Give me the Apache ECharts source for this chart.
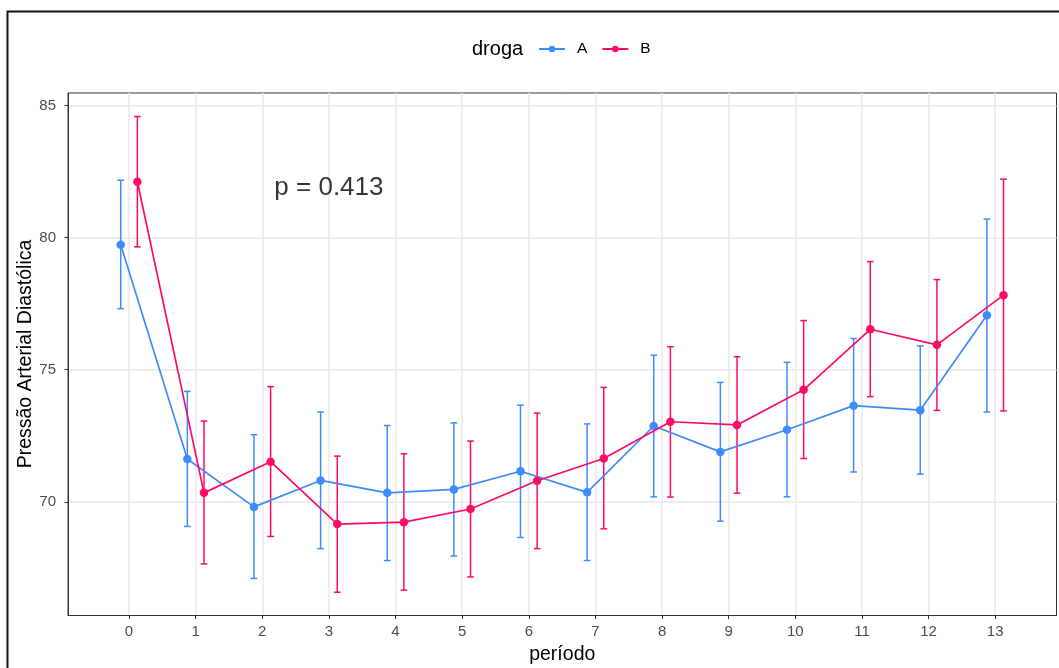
<!DOCTYPE html>
<html>
<head>
<meta charset="utf-8">
<script src="https://cdn.jsdelivr.net/npm/echarts@6/dist/echarts.min.js"></script>
<style>
html,body{margin:0;padding:0;background:#fff;}
#chart{width:1059px;height:668px;}
</style>
</head>
<body>
<div id="chart"></div>
<script>
// ---- data ----
const periods = [0,1,2,3,4,5,6,7,8,9,10,11,12,13];
const groups = ['A','B'];
const meanA  = [79.73,71.62,69.81,70.81,70.34,70.47,71.16,70.36,72.87,71.89,72.73,73.64,73.47,77.06];
const lowerA = [77.31,69.07,67.10,68.23,67.78,67.95,68.65,67.78,70.19,69.27,70.19,71.13,71.05,73.40];
const upperA = [82.17,74.18,72.54,73.40,72.89,72.99,73.66,72.95,75.55,74.52,75.28,76.18,75.90,80.70];
const meanB  = [82.11,70.34,71.52,69.16,69.23,69.73,70.80,71.64,73.03,72.91,74.24,76.53,75.94,77.82];
const lowerB = [79.65,67.65,68.69,66.58,66.66,67.16,68.23,68.98,70.18,70.33,71.64,73.98,73.46,73.44];
const upperB = [84.58,73.06,74.36,71.73,71.82,72.30,73.36,74.33,75.87,75.49,76.86,79.09,78.41,82.21];
const yTicks = [70,75,80,85];
const pText = 'p = 0.413';
const pPos = [3, 81.9];
const legendTitle = 'droga';
const xTitle = 'período';
const yTitle = 'Pressão Arterial Diastólica';

const colors = {A:'#3F8BFD', B:'#FF0A69'};
const dodge = {A:-0.125, B:0.125};
const capHalf = 0.05;
const FONT = '"Liberation Sans", Arial, sans-serif';

function lineData(mean, g){ return periods.map((p,i)=>[p+dodge[g], mean[i]]); }
function errData(lo, hi, g){ return periods.map((p,i)=>[p+dodge[g], lo[i], hi[i]]); }

function errSeries(g, lo, hi){
  return {
    name: g + ' (IC)', type:'custom', z: 2,
    data: errData(lo, hi, g),
    encode: {x:0, y:[1,2]},
    itemStyle:{color: colors[g]},
    renderItem: function(params, api){
      const x = api.value(0), l = api.value(1), h = api.value(2);
      const pLo = api.coord([x, l]), pHi = api.coord([x, h]);
      const cL = api.coord([x-capHalf, h])[0], cR = api.coord([x+capHalf, h])[0];
      const st = {stroke: colors[g], lineWidth: 1.5, fill: null};
      return {type:'group', children:[
        {type:'line', shape:{x1:pLo[0], y1:pLo[1], x2:pHi[0], y2:pHi[1]}, style:st},
        {type:'line', shape:{x1:cL, y1:pHi[1], x2:cR, y2:pHi[1]}, style:st},
        {type:'line', shape:{x1:cL, y1:pLo[1], x2:cR, y2:pLo[1]}, style:st}
      ]};
    },
    silent:true, animation:false
  };
}
function lineSeries(g, mean, z){
  return {
    name: g, type:'line', z: z,
    data: lineData(mean, g),
    symbol:'circle', symbolSize: 8.5, showSymbol:true,
    lineStyle:{color: colors[g], width:1.7},
    itemStyle:{color: colors[g]},
    animation:false
  };
}

const chart = echarts.init(document.getElementById('chart'), null, {renderer:'canvas'});
chart.setOption({
  backgroundColor:'#fff',
  animation:false,
  textStyle:{fontFamily: FONT},
  grid:{left:68, top:93, right:2.5, bottom:52.5, show:true, borderColor:'#333', borderWidth:1, backgroundColor:'transparent', outerBoundsMode:'none', containLabel:false},
  legend:{
    data: groups, left: 538, top: 41, orient:'horizontal', padding:0,
    itemWidth: 26, itemHeight: 8, itemGap: 14,
    textStyle:{fontFamily:FONT, fontSize:15.5, color:'#000', padding:[0,0,0,7]}
  },
  xAxis:{
    type:'value', min:-0.916, max:13.92,
    name: xTitle, nameLocation:'middle', nameGap: 27,
    nameTextStyle:{fontFamily:FONT, fontSize:19.5, color:'#000'},
    axisLine:{show:true, onZero:false, lineStyle:{color:'#333', width:1}},
    axisTick:{show:true, length:3.5, customValues: periods, lineStyle:{color:'#333', width:1}},
    axisLabel:{customValues: periods, fontFamily:FONT, fontSize:15, color:'#4d4d4d', margin:9},
    splitLine:{show:true, lineStyle:{color:'#e8e8e8', width:1.5}}
  },
  yAxis:{
    type:'value', min:65.70, max:85.47,
    axisLine:{show:true, onZero:false, lineStyle:{color:'#333', width:1}},
    axisTick:{show:true, length:3.5, customValues: yTicks, lineStyle:{color:'#333', width:1}},
    axisLabel:{customValues: yTicks, fontFamily:FONT, fontSize:15, color:'#4d4d4d', margin:12},
    splitLine:{show:true, lineStyle:{color:'#e8e8e8', width:1.5}}
  },
  graphic:[
    {type:'rect', left:5, top:9, shape:{x:0, y:0, width:1070, height:680}, style:{fill:null, stroke:'#111', lineWidth:2}, silent:true},
    {type:'text', left:472, top:39, style:{text: legendTitle, font:'20px "Liberation Sans", Arial, sans-serif', fill:'#000'}},
    {type:'text', x:26, y:354, rotation:Math.PI/2, style:{text: yTitle, font:'19.5px "Liberation Sans", Arial, sans-serif', fill:'#000', align:'center', verticalAlign:'middle'}}
  ],
  series:[
    lineSeries('A', meanA, 3),
    lineSeries('B', meanB, 4),
    errSeries('A', lowerA, upperA),
    errSeries('B', lowerB, upperB),
    {
      type:'scatter', data:[pPos], symbolSize:0, silent:true, z:5,
      label:{show:true, position:'inside', formatter: pText, fontFamily:FONT, fontSize:26, color:'#000'},
      tooltip:{show:false}
    }
  ]
});
</script>
</body>
</html>
